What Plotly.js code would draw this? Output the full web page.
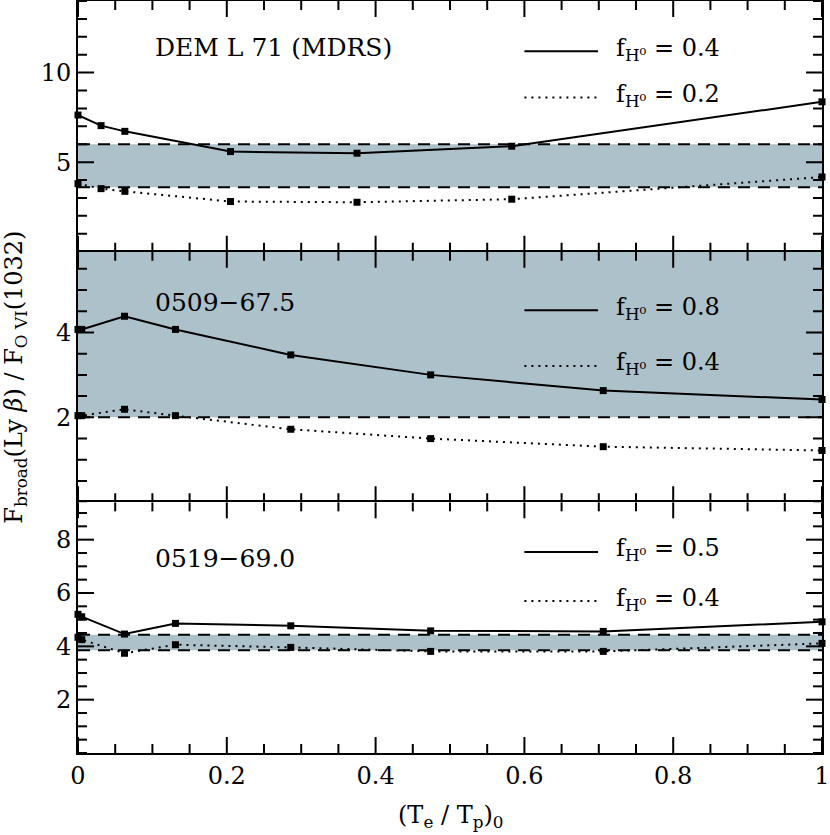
<!DOCTYPE html>
<html>
<head>
<meta charset="utf-8">
<script src="https://cdn.plot.ly/plotly-3.0.1.min.js"></script>
<style>
  body { margin: 0; background: #fff; }
  #chart { width: 830px; height: 835px; }
</style>
</head>
<body>
<div id="chart"></div>
<script>
// panel 1: DEM L 71 (MDRS)
const xDem = [0, 0.031, 0.063, 0.205, 0.375, 0.583, 1];
const demSolid = [7.63, 7.04, 6.72, 5.59, 5.50, 5.89, 8.37];
const demDotted = [3.80, 3.52, 3.37, 2.80, 2.76, 2.93, 4.17];

// panels 2 and 3 share the same grid of temperature ratios
const xSnr = [0, 0.005, 0.0625, 0.131, 0.286, 0.474, 0.706, 1];
const s0509Solid = [4.07, 4.07, 4.38, 4.07, 3.47, 3.00, 2.63, 2.42];
const s0509Dotted = [2.04, 2.04, 2.19, 2.04, 1.72, 1.50, 1.31, 1.22];
const s0519Solid = [5.20, 5.11, 4.46, 4.86, 4.77, 4.58, 4.56, 4.92];
const s0519Dotted = [4.34, 4.25, 3.74, 4.06, 3.96, 3.81, 3.81, 4.11];

// observed ranges (shaded bands)
const panelNames = ['DEM L 71 (MDRS)', '0509\u221267.5', '0519\u221269.0'];
const bandLow = [3.6, 2.0, 3.85];
const bandHigh = [6.0, 6.3, 4.43];
const legendSolid = ['0.4', '0.8', '0.5'];
const legendDotted = ['0.2', '0.4', '0.4'];

// axes
const xRange = [0, 1];
const xTickVals = [0, 0.2, 0.4, 0.6, 0.8, 1];
const xMinorStep = 0.05;
const yRanges = [[0, 14], [0, 5.9], [0, 9.4]];
const yTicks = [[5, 10], [2, 4], [2, 4, 6, 8]];
const yMinorStep = [1, 0.5, 0.5];

const FONT = 'DejaVu Serif, serif';
const BAND = 'rgb(173,193,202)';
const MAJOR_LEN = 16, MINOR_LEN = 9;

const seriesX = [xDem, xSnr, xSnr];
const seriesSolid = [demSolid, s0509Solid, s0519Solid];
const seriesDotted = [demDotted, s0509Dotted, s0519Dotted];

const sfx = i => (i === 0 ? '' : String(i + 1));

// multiples of step inside [lo, hi]
function stepsIn(lo, hi, step) {
    const out = [];
    for (let k = Math.ceil(lo / step - 1e-9); k * step <= hi + 1e-9; k++) out.push(+(k * step).toFixed(6));
    return out;
}

const data = [];
const shapes = [];
const annotations = [];

seriesX.forEach((xs, i) => {
    const xa = 'x' + sfx(i), ya = 'y' + sfx(i);
    const marker = { symbol: 'square', size: 7, color: 'black' };
    data.push({
        type: 'scatter', mode: 'lines+markers', x: xs, y: seriesSolid[i],
        xaxis: xa, yaxis: ya, showlegend: false, cliponaxis: false,
        line: { color: 'black', width: 2 }, marker
    });
    data.push({
        type: 'scatter', mode: 'lines+markers', x: xs, y: seriesDotted[i],
        xaxis: xa, yaxis: ya, showlegend: false, cliponaxis: false,
        line: { color: 'black', width: 2, dash: '2px,5px' }, marker
    });

    // shaded band plus dashed edges
    shapes.push({
        type: 'rect', xref: xa, yref: ya, x0: xRange[0], x1: xRange[1],
        y0: bandLow[i], y1: bandHigh[i], fillcolor: BAND,
        line: { width: 0 }, layer: 'below'
    });
    [bandLow[i], bandHigh[i]].forEach(v => {
        if (v > yRanges[i][1]) return;
        shapes.push({
            type: 'line', xref: xa, yref: ya, x0: xRange[0], x1: xRange[1], y0: v, y1: v,
            line: { color: 'black', width: 2, dash: '12px,8px' }, layer: 'below'
        });
    });

    // inward ticks on all four sides, placed on the axis scales
    const [ylo, yhi] = yRanges[i];
    const xMinor = stepsIn(xRange[0], xRange[1], xMinorStep).filter(v => !xTickVals.includes(v));
    [[xTickVals, MAJOR_LEN], [xMinor, MINOR_LEN]].forEach(([vals, len]) => {
        vals.forEach(v => {
            [[ylo, len], [yhi, -len]].forEach(([anchor, l]) => {
                shapes.push({
                    type: 'line', xref: xa, yref: ya, x0: v, x1: v,
                    ysizemode: 'pixel', yanchor: anchor, y0: 0, y1: l,
                    line: { color: 'black', width: 2 }
                });
            });
        });
    });
    const yMinor = stepsIn(ylo, yhi, yMinorStep[i]).filter(v => !yTicks[i].includes(v));
    [[yTicks[i], MAJOR_LEN], [yMinor, MINOR_LEN]].forEach(([vals, len]) => {
        vals.forEach(v => {
            [[xRange[0], len], [xRange[1], -len]].forEach(([anchor, l]) => {
                shapes.push({
                    type: 'line', xref: xa, yref: ya, y0: v, y1: v,
                    xsizemode: 'pixel', xanchor: anchor, x0: 0, x1: l,
                    line: { color: 'black', width: 2 }
                });
            });
        });
    });

    // panel label
    const labelY = [0.816, 0.797, 0.776][i];
    annotations.push({
        xref: xa + ' domain', yref: ya + ' domain', x: 0.101, y: labelY,
        xanchor: 'left', yanchor: 'middle', showarrow: false,
        text: panelNames[i], font: { family: FONT, size: 25, color: 'black' }
    });

    // hand-made legend
    const rows = [[0.80, 0.615], [0.766, 0.544], [0.802, 0.606]][i];
    [[legendSolid[i], 'solid'], [legendDotted[i], '2px,5px']].forEach(([val, dash], r) => {
        shapes.push({
            type: 'line', xref: xa + ' domain', yref: ya + ' domain',
            x0: 0.600, x1: 0.699, y0: rows[r], y1: rows[r],
            line: { color: 'black', width: 2, dash }
        });
        annotations.push({
            xref: xa + ' domain', yref: ya + ' domain', x: 0.721, y: rows[r],
            xanchor: 'left', yanchor: 'middle', yshift: 2, showarrow: false,
            text: 'f<sub>H\u2070</sub> = ' + val,
            font: { family: FONT, size: 24, color: 'black' }
        });
    });
});

annotations.push({
    xref: 'paper', yref: 'paper', x: -0.085, y: 0.5, textangle: -90,
    xanchor: 'center', yanchor: 'middle', showarrow: false,
    text: 'F<sub>broad</sub>(Ly <i>\u03b2</i>) / F<sub>O VI</sub>(1032)',
    font: { family: FONT, size: 24, color: 'black' }
});
annotations.push({
    xref: 'paper', yref: 'paper', x: 0.5, y: -0.084,
    xanchor: 'center', yanchor: 'middle', showarrow: false,
    text: '(T<sub>e</sub> / T<sub>p</sub>)<sub>0</sub>',
    font: { family: FONT, size: 24, color: 'black' }
});

const axisBase = {
    showline: true, linewidth: 2, linecolor: 'black', ticks: '',
    showgrid: false, zeroline: false,
    tickfont: { family: FONT, size: 24, color: 'black' }
};

const layout = {
    width: 830, height: 835,
    margin: { l: 78, r: 8, t: 1, b: 82 },
    paper_bgcolor: 'white', plot_bgcolor: 'white',
    showlegend: false, shapes, annotations
};

const domains = [[2 / 3, 1], [1 / 3, 2 / 3], [0, 1 / 3]];
domains.forEach((dom, i) => {
    const s = sfx(i);
    const bottom = i === 2;
    layout['xaxis' + s] = {
        ...axisBase, anchor: 'y' + s, range: xRange,
        tickvals: xTickVals, side: bottom ? 'bottom' : 'top',
        mirror: bottom, showticklabels: bottom
    };
    layout['yaxis' + s] = {
        ...axisBase, anchor: 'x' + s, domain: dom, range: yRanges[i],
        tickvals: yTicks[i], mirror: true
    };
});

Plotly.newPlot('chart', data, layout, { displayModeBar: false });
</script>
</body>
</html>
